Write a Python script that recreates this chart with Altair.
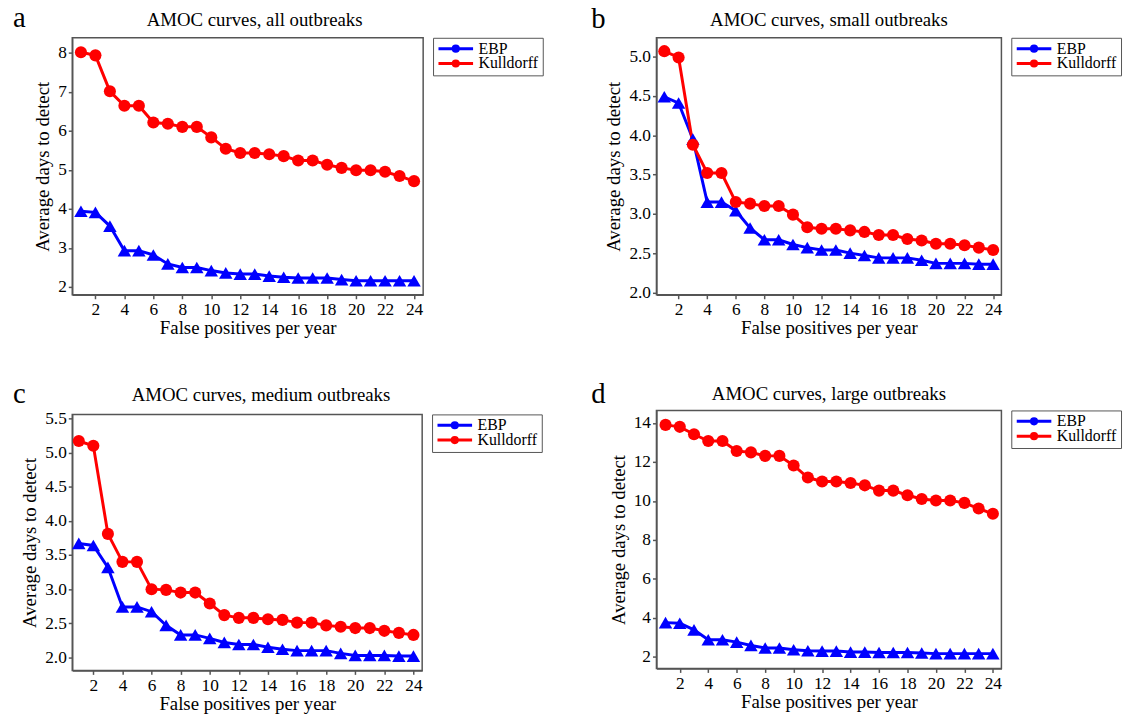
import altair as alt
import pandas as pd

x_fp = list(range(1, 25))
series_names = ["EBP", "Kulldorff"]
series_colors = ["#0000ff", "#ff0000"]

ebp_a = [3.94, 3.91, 3.56, 2.93, 2.93, 2.82, 2.59, 2.50, 2.50, 2.42, 2.36, 2.33,
         2.33, 2.28, 2.25, 2.23, 2.23, 2.23, 2.19, 2.16, 2.16, 2.16, 2.16, 2.16]
kul_a = [8.01, 7.93, 7.01, 6.64, 6.64, 6.21, 6.18, 6.10, 6.10, 5.83, 5.54, 5.43,
         5.43, 5.40, 5.35, 5.24, 5.24, 5.13, 5.05, 4.99, 4.99, 4.95, 4.84, 4.71]
ebp_b = [4.49, 4.41, 3.95, 3.15, 3.15, 3.04, 2.82, 2.67, 2.67, 2.61, 2.57, 2.54,
         2.54, 2.50, 2.47, 2.44, 2.44, 2.44, 2.41, 2.37, 2.37, 2.37, 2.36, 2.36]
kul_b = [5.07, 4.99, 3.88, 3.52, 3.52, 3.15, 3.13, 3.10, 3.10, 2.99, 2.83, 2.81,
         2.81, 2.79, 2.77, 2.73, 2.73, 2.68, 2.66, 2.62, 2.62, 2.60, 2.57, 2.54]
ebp_c = [3.67, 3.64, 3.32, 2.74, 2.74, 2.67, 2.47, 2.33, 2.33, 2.28, 2.22, 2.19,
         2.19, 2.15, 2.12, 2.10, 2.10, 2.10, 2.06, 2.03, 2.03, 2.03, 2.02, 2.02]
kul_c = [5.17, 5.10, 3.81, 3.40, 3.40, 3.00, 2.99, 2.95, 2.95, 2.79, 2.62, 2.58,
         2.58, 2.56, 2.55, 2.51, 2.51, 2.47, 2.45, 2.43, 2.43, 2.39, 2.36, 2.33]
ebp_d = [3.76, 3.73, 3.39, 2.88, 2.88, 2.76, 2.59, 2.46, 2.46, 2.37, 2.32, 2.30,
         2.30, 2.25, 2.25, 2.23, 2.23, 2.23, 2.20, 2.17, 2.17, 2.17, 2.17, 2.17]
kul_d = [13.90, 13.80, 13.42, 13.07, 13.07, 12.56, 12.49, 12.31, 12.31, 11.82, 11.20, 11.00,
         11.00, 10.92, 10.80, 10.53, 10.53, 10.29, 10.10, 10.02, 10.02, 9.90, 9.61, 9.34]

letters = ["a", "b", "c", "d"]
titles = ["AMOC curves, all outbreaks", "AMOC curves, small outbreaks",
          "AMOC curves, medium outbreaks", "AMOC curves, large outbreaks"]
x_ticks = list(range(2, 25, 2))

FONT = "Liberation Serif"
LETTER_SIZE = 29
# legend symbol: a line with a small dot in the middle
legend_symbol = "M-1,0H1M-0.15,0A0.15,0.15 0 1,0 0.15,0A0.15,0.15 0 1,0 -0.15,0Z"


def panel(letter, title, ebp, kul, xdom, ydom, yticks, yfmt, w, h, tdx, tbase, lx, ly):
    df = pd.DataFrame({
        "fp": x_fp + x_fp,
        "days": ebp + kul,
        "series": ["EBP"] * len(ebp) + ["Kulldorff"] * len(kul),
    })
    cscale = alt.Scale(domain=series_names, range=series_colors)
    xenc = alt.X("fp:Q", scale=alt.Scale(domain=xdom, nice=False, zero=False),
                 axis=alt.Axis(values=x_ticks, title="False positives per year"))
    yenc = alt.Y("days:Q", scale=alt.Scale(domain=ydom, nice=False, zero=False),
                 axis=alt.Axis(values=yticks, format=yfmt, title="Average days to detect"))
    leg = alt.Legend(title=None, symbolType=legend_symbol)
    base = alt.Chart(df)
    lines = base.mark_line(strokeWidth=3).encode(
        x=xenc, y=yenc, color=alt.Color("series:N", scale=cscale, legend=leg))
    tri = base.transform_filter(alt.datum.series == "EBP").mark_point(
        shape="triangle-up", filled=True, size=185, opacity=1).encode(
        x=xenc, y=yenc, color=alt.Color("series:N", scale=cscale, legend=None))
    circ = base.transform_filter(alt.datum.series == "Kulldorff").mark_point(
        shape="circle", filled=True, size=150, opacity=1).encode(
        x=xenc, y=yenc, color=alt.Color("series:N", scale=cscale, legend=None))
    lab = alt.Chart(pd.DataFrame({"t": [letter]})).mark_text(
        font=FONT, fontSize=LETTER_SIZE, align="left", baseline="alphabetic", color="black").encode(
        text="t:N", x=alt.value(lx), y=alt.value(ly))
    letter_top = ly - 1.0 * LETTER_SIZE
    return alt.layer(lines, tri, circ, lab).properties(
        width=w, height=h,
        title=alt.TitleParams(title, fontSize=19, font=FONT, fontWeight="normal",
                              anchor="middle", color="black",
                              offset=letter_top - tbase, dx=tdx),
    )


pa = panel("a", titles[0], ebp_a, kul_a, [0.4, 24.63], [1.8, 8.38],
           [2, 3, 4, 5, 6, 7, 8], "d", 355, 260, 7, -14, -60, -11)
pb = panel("b", titles[1], ebp_b, kul_b, [0.45, 24.58], [1.97, 5.24],
           [2.0, 2.5, 3.0, 3.5, 4.0, 4.5, 5.0], ".1f", 349, 260, 0, -14, -66, -10)
pc = panel("c", titles[2], ebp_c, kul_c, [0.55, 24.6], [1.81, 5.56],
           [2.0, 2.5, 3.0, 3.5, 4.0, 4.5, 5.0, 5.5], ".1f", 354, 259, 14, -16, -60, -12)
pd_ = panel("d", titles[3], ebp_d, kul_d, [0.36, 24.6], [1.41, 14.64],
            [2, 4, 6, 8, 10, 12, 14], "d", 349, 261, 0, -13, -66, -8)

chart = alt.concat(pa, pb, pc, pd_, columns=2, align="none",
                   spacing={"row": 40, "column": 46}).resolve_scale(
    color="independent").resolve_legend(color="independent").properties(
    padding={"left": 4, "top": -9, "right": 0, "bottom": 0}
).configure_view(
    stroke="#555555", strokeWidth=1.5
).configure_axis(
    labelFont=FONT, titleFont=FONT, labelFontSize=17.5, titleFontSize=19,
    titleFontWeight="normal", labelColor="black", titleColor="black",
    grid=False, domainColor="#555555", tickColor="#555555", tickSize=4,
    domainWidth=1.5, tickWidth=1.5, labelPadding=2,
).configure_axisX(titlePadding=1).configure_axisY(titlePadding=5).configure_legend(
    orient="right", offset=10, padding=4, strokeColor="#555555", fillColor="white",
    labelFont=FONT, labelFontSize=16, labelColor="black", symbolSize=1225,
    symbolStrokeWidth=3, rowPadding=-3, labelOffset=4, symbolOpacity=1, clipHeight=14,
)

chart.save("out.html", embed_options={"renderer": "svg", "actions": False})
